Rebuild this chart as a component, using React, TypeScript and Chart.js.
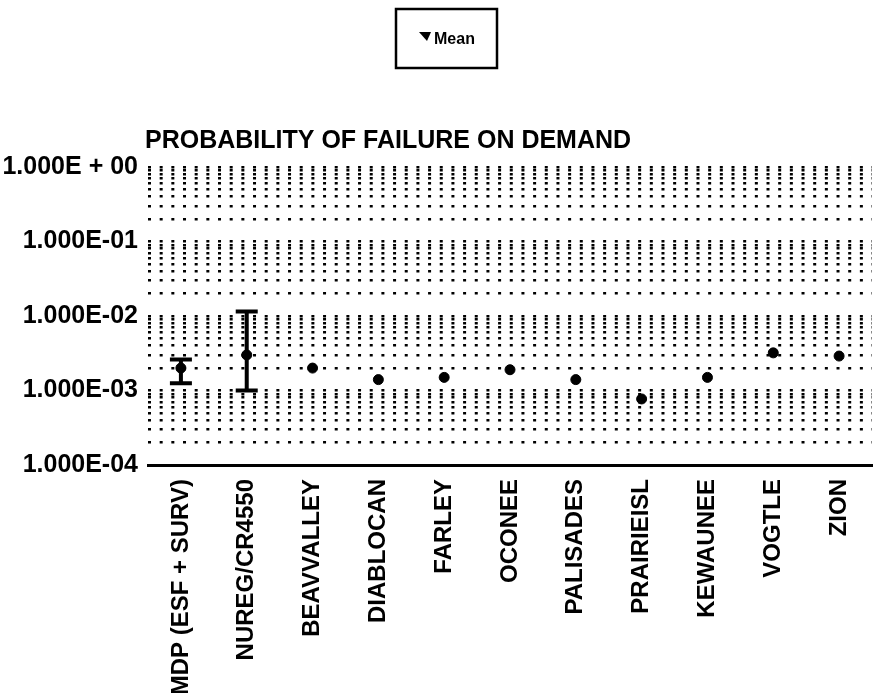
import React, { useEffect, useRef } from "react";
import { Chart, registerables } from "chart.js";

Chart.register(...registerables);

const categories = [
  "MDP (ESF + SURV)",
  "NUREG/CR4550",
  "BEAVVALLEY",
  "DIABLOCAN",
  "FARLEY",
  "OCONEE",
  "PALISADES",
  "PRAIRIEISL",
  "KEWAUNEE",
  "VOGTLE",
  "ZION",
];

const meanValues = [2.0e-3, 3.0e-3, 2.0e-3, 1.4e-3, 1.5e-3, 1.9e-3, 1.4e-3, 7.7e-4, 1.5e-3, 3.2e-3, 2.9e-3];
const lowerBounds: (number | null)[] = [1.25e-3, 1.0e-3, null, null, null, null, null, null, null, null, null];
const upperBounds: (number | null)[] = [2.6e-3, 1.15e-2, null, null, null, null, null, null, null, null, null];

const yDecades = [1e-4, 1e-3, 1e-2, 1e-1, 1];
const yDecadeLabels = ["1.000E-04", "1.000E-03", "1.000E-02", "1.000E-01", "1.000E + 00"];

const titleText = "PROBABILITY OF FAILURE ON DEMAND";
const legendText = "Mean";

const FONT = "'Liberation Sans', Arial, Helvetica, sans-serif";

const errorBarPlugin = {
  id: "errorBars",
  afterDatasetsDraw(chart: any) {
    const { ctx, scales } = chart;
    const xs = scales.x;
    const ys = scales.y;
    ctx.save();
    ctx.strokeStyle = "#000";
    ctx.lineWidth = 4;
    ctx.lineCap = "butt";
    for (let i = 0; i < categories.length; i++) {
      const lo = lowerBounds[i];
      const hi = upperBounds[i];
      if (lo == null || hi == null) continue;
      const x = xs.getPixelForValue(i);
      const yl = ys.getPixelForValue(lo);
      const yh = ys.getPixelForValue(hi);
      const cap = 11;
      ctx.beginPath();
      ctx.moveTo(x, yl);
      ctx.lineTo(x, yh);
      ctx.moveTo(x - cap, yl);
      ctx.lineTo(x + cap, yl);
      ctx.moveTo(x - cap, yh);
      ctx.lineTo(x + cap, yh);
      ctx.stroke();
    }
    ctx.restore();
  },
};

const headerPlugin = {
  id: "header",
  afterDraw(chart: any) {
    const { ctx, chartArea } = chart;
    ctx.save();
    ctx.fillStyle = "#000";
    ctx.font = `bold 25px ${FONT}`;
    ctx.textAlign = "left";
    ctx.textBaseline = "middle";
    ctx.fillText(titleText, chartArea.left - 3, 141);
    ctx.strokeStyle = "#000";
    ctx.lineWidth = 2.5;
    ctx.strokeRect(396, 9, 101, 59);
    ctx.beginPath();
    ctx.moveTo(419, 32);
    ctx.lineTo(431, 32);
    ctx.lineTo(427, 41);
    ctx.closePath();
    ctx.fill();
    ctx.font = `bold 16px ${FONT}`;
    ctx.fillText(legendText, 434, 40);
    ctx.restore();
  },
};

export default function App() {
  const canvasRef = useRef<HTMLCanvasElement | null>(null);

  useEffect(() => {
    if (!canvasRef.current) return;
    const chart = new Chart(canvasRef.current, {
      type: "line",
      data: {
        labels: categories,
        datasets: [
          {
            label: legendText,
            data: meanValues,
            showLine: false,
            pointRadius: 5,
            pointBackgroundColor: "#000",
            pointBorderColor: "#000",
            pointStyle: "circle",
          },
        ],
      },
      options: {
        animation: false,
        responsive: true,
        maintainAspectRatio: false,
        layout: { padding: { top: 167, right: 6, left: 0, bottom: 0 } },
        plugins: {
          legend: { display: false },
          title: { display: false },
          tooltip: { enabled: false },
        },
        scales: {
          x: {
            type: "category",
            offset: true,
            grid: { display: false },
            border: { display: true, color: "#000", width: 3 },
            ticks: {
              autoSkip: false,
              minRotation: 90,
              maxRotation: 90,
              padding: 6,
              color: "#000",
              font: { family: FONT, size: 24, weight: "bold" },
            },
            afterFit: (scale: any) => {
              scale.height = 228;
            },
          },
          y: {
            type: "logarithmic",
            min: 1e-4,
            max: 1,
            border: { display: false, dash: [3, 8.67] },
            grid: {
              display: true,
              drawTicks: false,
              color: "#000",
              lineWidth: 2.5,
            },
            ticks: {
              autoSkip: false,
              padding: 10,
              color: "#000",
              font: { family: FONT, size: 25, weight: "bold" },
              callback: (value: any) => {
                const v = Number(value);
                const idx = yDecades.findIndex((d) => Math.abs(Math.log10(d) - Math.log10(v)) < 1e-6);
                return idx >= 0 ? yDecadeLabels[idx] : "";
              },
            },
            afterBuildTicks: (axis: any) => {
              const ticks: { value: number }[] = [];
              for (let k = 0; k < yDecades.length - 1; k++) {
                for (let m = 1; m <= 9; m++) ticks.push({ value: yDecades[k] * m });
              }
              ticks.push({ value: yDecades[yDecades.length - 1] });
              axis.ticks = ticks;
            },
            afterFit: (scale: any) => {
              scale.width = 148;
            },
          },
        },
      } as any,
      plugins: [errorBarPlugin, headerPlugin],
    });
    return () => chart.destroy();
  }, []);

  return (
    <div style={{ position: "fixed", left: 0, top: 0, width: 878, height: 693, background: "#fff" }}>
      <canvas ref={canvasRef} />
    </div>
  );
}
